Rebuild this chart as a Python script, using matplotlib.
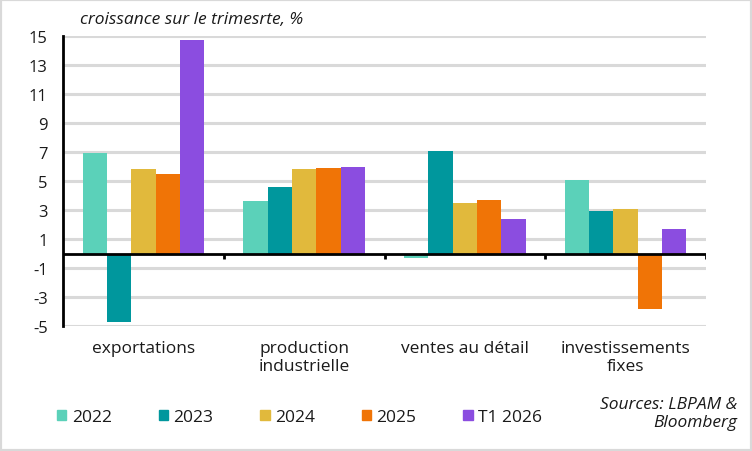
import matplotlib
matplotlib.use("Agg")
import matplotlib.pyplot as plt
import numpy as np
from matplotlib.patches import Rectangle, Patch

plt.rcParams['font.family'] = ['Open Sans', 'DejaVu Sans']
plt.rcParams['font.weight'] = 'normal'
plt.rcParams['text.color'] = '#1a1a1a'
plt.rcParams['xtick.color'] = '#1a1a1a'
plt.rcParams['ytick.color'] = '#1a1a1a'

categories = ["exportations", "production\nindustrielle", "ventes au détail", "investissements\nfixes"]
series_names = ["2022", "2023", "2024", "2025", "T1 2026"]
v2022 = [6.9, 3.6, -0.3, 5.1]
v2023 = [-4.7, 4.6, 7.1, 2.9]
v2024 = [5.8, 5.8, 3.5, 3.1]
v2025 = [5.5, 5.9, 3.7, -3.8]
vT1_2026 = [14.7, 6.0, 2.4, 1.7]
series_values = [v2022, v2023, v2024, v2025, vT1_2026]
colors = ["#5BD1B9", "#00979D", "#E1B93C", "#F07406", "#8B4DE0"]
yticks = [-5, -3, -1, 1, 3, 5, 7, 9, 11, 13, 15]

W, H = 752, 452
fig = plt.figure(figsize=(W/100, H/100), dpi=100)
ax = fig.add_axes([63/W, (H-327)/H, (706-63)/W, 290/H])

x = np.arange(len(categories))
bw = 0.756 / len(series_names)
for j, (name, vals, c) in enumerate(zip(series_names, series_values, colors)):
    ax.bar(x + (j - 2) * bw, vals, width=bw, color=c, label=name, zorder=3)

ax.set_xlim(-0.5, len(categories) - 0.5)
ax.set_ylim(-5, 15)
ax.set_yticks(yticks)
ax.set_yticklabels([str(t) for t in yticks])
ax.yaxis.grid(True, color="#D9D9D9", linewidth=2.2, zorder=0)
ax.set_axisbelow(True)
for s in ["top", "right", "bottom"]:
    ax.spines[s].set_visible(False)
ax.spines["left"].set_linewidth(2)
ax.spines["left"].set_color("black")
ax.axhline(0, color="black", linewidth=2, zorder=4)
ax.vlines(np.arange(len(categories)) + 0.5, -0.35, 0, color="black", linewidth=2, zorder=4)

ax.set_xticks(x)
ax.set_xticklabels(categories, fontsize=12.5, linespacing=1.15)
ax.tick_params(axis="x", length=0, pad=10)
ax.tick_params(axis="y", length=0, pad=11, labelsize=12)

fig.text(80/W, 1 - 20/H, "croissance sur le trimesrte, %", fontsize=12.5, style="italic", va="center", ha="left")
fig.text(737/W, 1 - 414/H, "Sources: LBPAM &\nBloomberg", fontsize=12.5, style="italic", va="center", ha="right", linespacing=1.2)

handles = [Patch(color=c) for c in colors]
fig.legend(handles, series_names, loc="center left", bbox_to_anchor=(50/W, 1 - 418/H), ncol=5,
           frameon=False, fontsize=12.5, handlelength=0.55, handleheight=0.55, handletextpad=0.3,
           columnspacing=2.7, borderaxespad=0)

fig.patches.append(Rectangle((0, 0), 1, 1, transform=fig.transFigure, fill=False,
                             edgecolor="#D9D9D9", linewidth=3))

fig.savefig("out.png", dpi=100)
